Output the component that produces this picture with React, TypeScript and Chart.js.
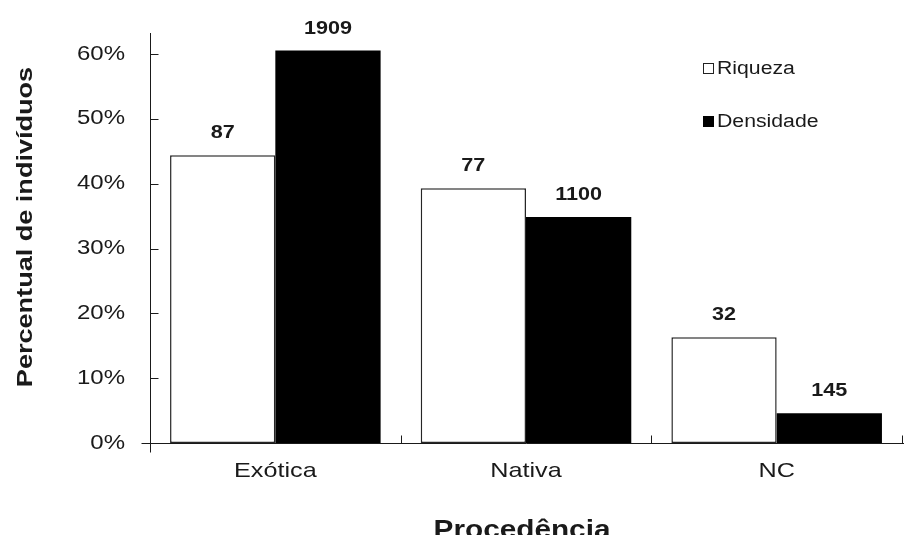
import React, { useEffect, useRef } from "react";
import { Chart, registerables } from "chart.js";

Chart.register(...registerables);

// Origin of the individuals (categories on the x axis)
const categories = ["Exótica", "Nativa", "NC"];

// Raw counts per origin; the bars show each count as a share of its series total
const riquezaCounts = [87, 77, 32];
const densidadeCounts = [1909, 1100, 145];

// Y axis ticks (fractions) and their printed labels
const yTickValues = [0, 0.1, 0.2, 0.3, 0.4, 0.5, 0.6];
const yTickLabels = ["0%", "10%", "20%", "30%", "40%", "50%", "60%"];

const seriesNames = ["Riqueza", "Densidade"];

const toShare = (counts: number[]) => {
  const total = counts.reduce((a, b) => a + b, 0);
  return counts.map((c) => c / total);
};

const FONT = '"Liberation Sans", Arial, sans-serif';
const AXIS_COLOR = "#1a1a1a";
const TEXT_COLOR = "#1a1a1a";

function drawText(
  ctx: CanvasRenderingContext2D,
  text: string,
  x: number,
  y: number,
  font: string,
  stretch: number,
  align: CanvasTextAlign,
  rotate = false,
  baseline: CanvasTextBaseline = "middle"
) {
  ctx.save();
  ctx.translate(x, y);
  if (rotate) ctx.rotate(-Math.PI / 2);
  ctx.scale(stretch, 1);
  ctx.font = font;
  ctx.fillStyle = TEXT_COLOR;
  ctx.textAlign = align;
  ctx.textBaseline = baseline;
  ctx.fillText(text, 0, 0);
  ctx.restore();
}

const axesAndLabels = {
  id: "axesAndLabels",
  afterDatasetsDraw(chart: any) {
    const { ctx, chartArea, scales } = chart;
    const xs = scales.x;
    const ys = scales.y;
    const zeroY = Math.round(ys.getPixelForValue(0)) + 0.5;
    const axisX = Math.round(chartArea.left) + 0.5;

    ctx.save();
    ctx.strokeStyle = AXIS_COLOR;
    ctx.lineWidth = 1;
    ctx.beginPath();
    // vertical axis, running a little past the baseline
    ctx.moveTo(axisX, chartArea.top);
    ctx.lineTo(axisX, zeroY + 9);
    // horizontal axis, crossing slightly to the left of the vertical one
    ctx.moveTo(axisX - 9, zeroY);
    ctx.lineTo(chart.width, zeroY);
    // inner tick marks on the value axis
    yTickValues.forEach((v) => {
      const py = Math.round(ys.getPixelForValue(v)) + 0.5;
      ctx.moveTo(axisX, py);
      ctx.lineTo(axisX + 8, py);
    });
    // inner tick marks between categories
    const step = xs.getPixelForValue(1) - xs.getPixelForValue(0);
    categories.forEach((_, i) => {
      const px = Math.round(xs.getPixelForValue(i) + step / 2) + 0.5;
      ctx.moveTo(px, zeroY);
      ctx.lineTo(px, zeroY - 8);
    });
    ctx.stroke();
    ctx.restore();
  },
  afterDraw(chart: any) {
    const { ctx, chartArea, scales } = chart;
    const xs = scales.x;
    const ys = scales.y;

    // value axis labels
    yTickValues.forEach((v, i) => {
      drawText(ctx, yTickLabels[i], chartArea.left - 25, ys.getPixelForValue(v), `20px ${FONT}`, 1.2, "right");
    });

    // category labels
    categories.forEach((c, i) => {
      drawText(ctx, c, xs.getPixelForValue(i), ys.getPixelForValue(0) + 28, `21px ${FONT}`, 1.2, "center");
    });

    // counts above the bars
    const counts = [riquezaCounts, densidadeCounts];
    counts.forEach((series, d) => {
      const meta = chart.getDatasetMeta(d);
      meta.data.forEach((bar: any, i: number) => {
        drawText(ctx, String(series[i]), bar.x, bar.y - 22, `bold 18px ${FONT}`, 1.2, "center");
      });
    });

    // axis titles
    drawText(ctx, "Procedência", 522, 538, `bold 25px ${FONT}`, 1.19, "center", false, "alphabetic");
    drawText(ctx, "Percentual de indivíduos", 26, 227, `bold 22px ${FONT}`, 1.23, "center", true);

    // legend
    ctx.save();
    const lx = 703;
    const rows = [69, 122];
    ctx.lineWidth = 1;
    ctx.strokeStyle = "#222";
    ctx.fillStyle = "#fff";
    ctx.fillRect(lx, rows[0] - 6, 11, 11);
    ctx.strokeRect(lx + 0.5, rows[0] - 5.5, 10, 10);
    ctx.fillStyle = "#000";
    ctx.fillRect(lx, rows[1] - 6, 11, 11);
    ctx.restore();
    seriesNames.forEach((n, i) => {
      drawText(ctx, n, lx + 14, rows[i], `18px ${FONT}`, 1.18, "left");
    });
  },
};

export default function App() {
  const canvasRef = useRef<HTMLCanvasElement | null>(null);

  useEffect(() => {
    if (!canvasRef.current) return;
    const chart = new Chart(canvasRef.current, {
      type: "bar",
      data: {
        labels: categories,
        datasets: [
          {
            label: seriesNames[0],
            data: toShare(riquezaCounts),
            backgroundColor: "#ffffff",
            borderColor: "#262626",
            borderWidth: 1.5,
            borderSkipped: false,
          },
          {
            label: seriesNames[1],
            data: toShare(densidadeCounts),
            backgroundColor: "#000000",
            borderColor: "#000000",
            borderWidth: 0,
          },
        ],
      },
      options: {
        animation: false,
        responsive: true,
        maintainAspectRatio: false,
        layout: { padding: { left: 150, right: 10, top: 33, bottom: 100 } },
        datasets: { bar: { categoryPercentage: 0.84, barPercentage: 1 } },
        scales: {
          x: { type: "category", display: false, offset: true },
          y: { display: false, min: 0, max: 0.6324 },
        },
        plugins: {
          legend: { display: false },
          tooltip: { enabled: false },
          title: { display: false },
        },
      },
      plugins: [axesAndLabels],
    });
    return () => chart.destroy();
  }, []);

  return (
    <div style={{ position: "relative", width: 912, height: 543, margin: -8 }}>
      <canvas ref={canvasRef} />
    </div>
  );
}
